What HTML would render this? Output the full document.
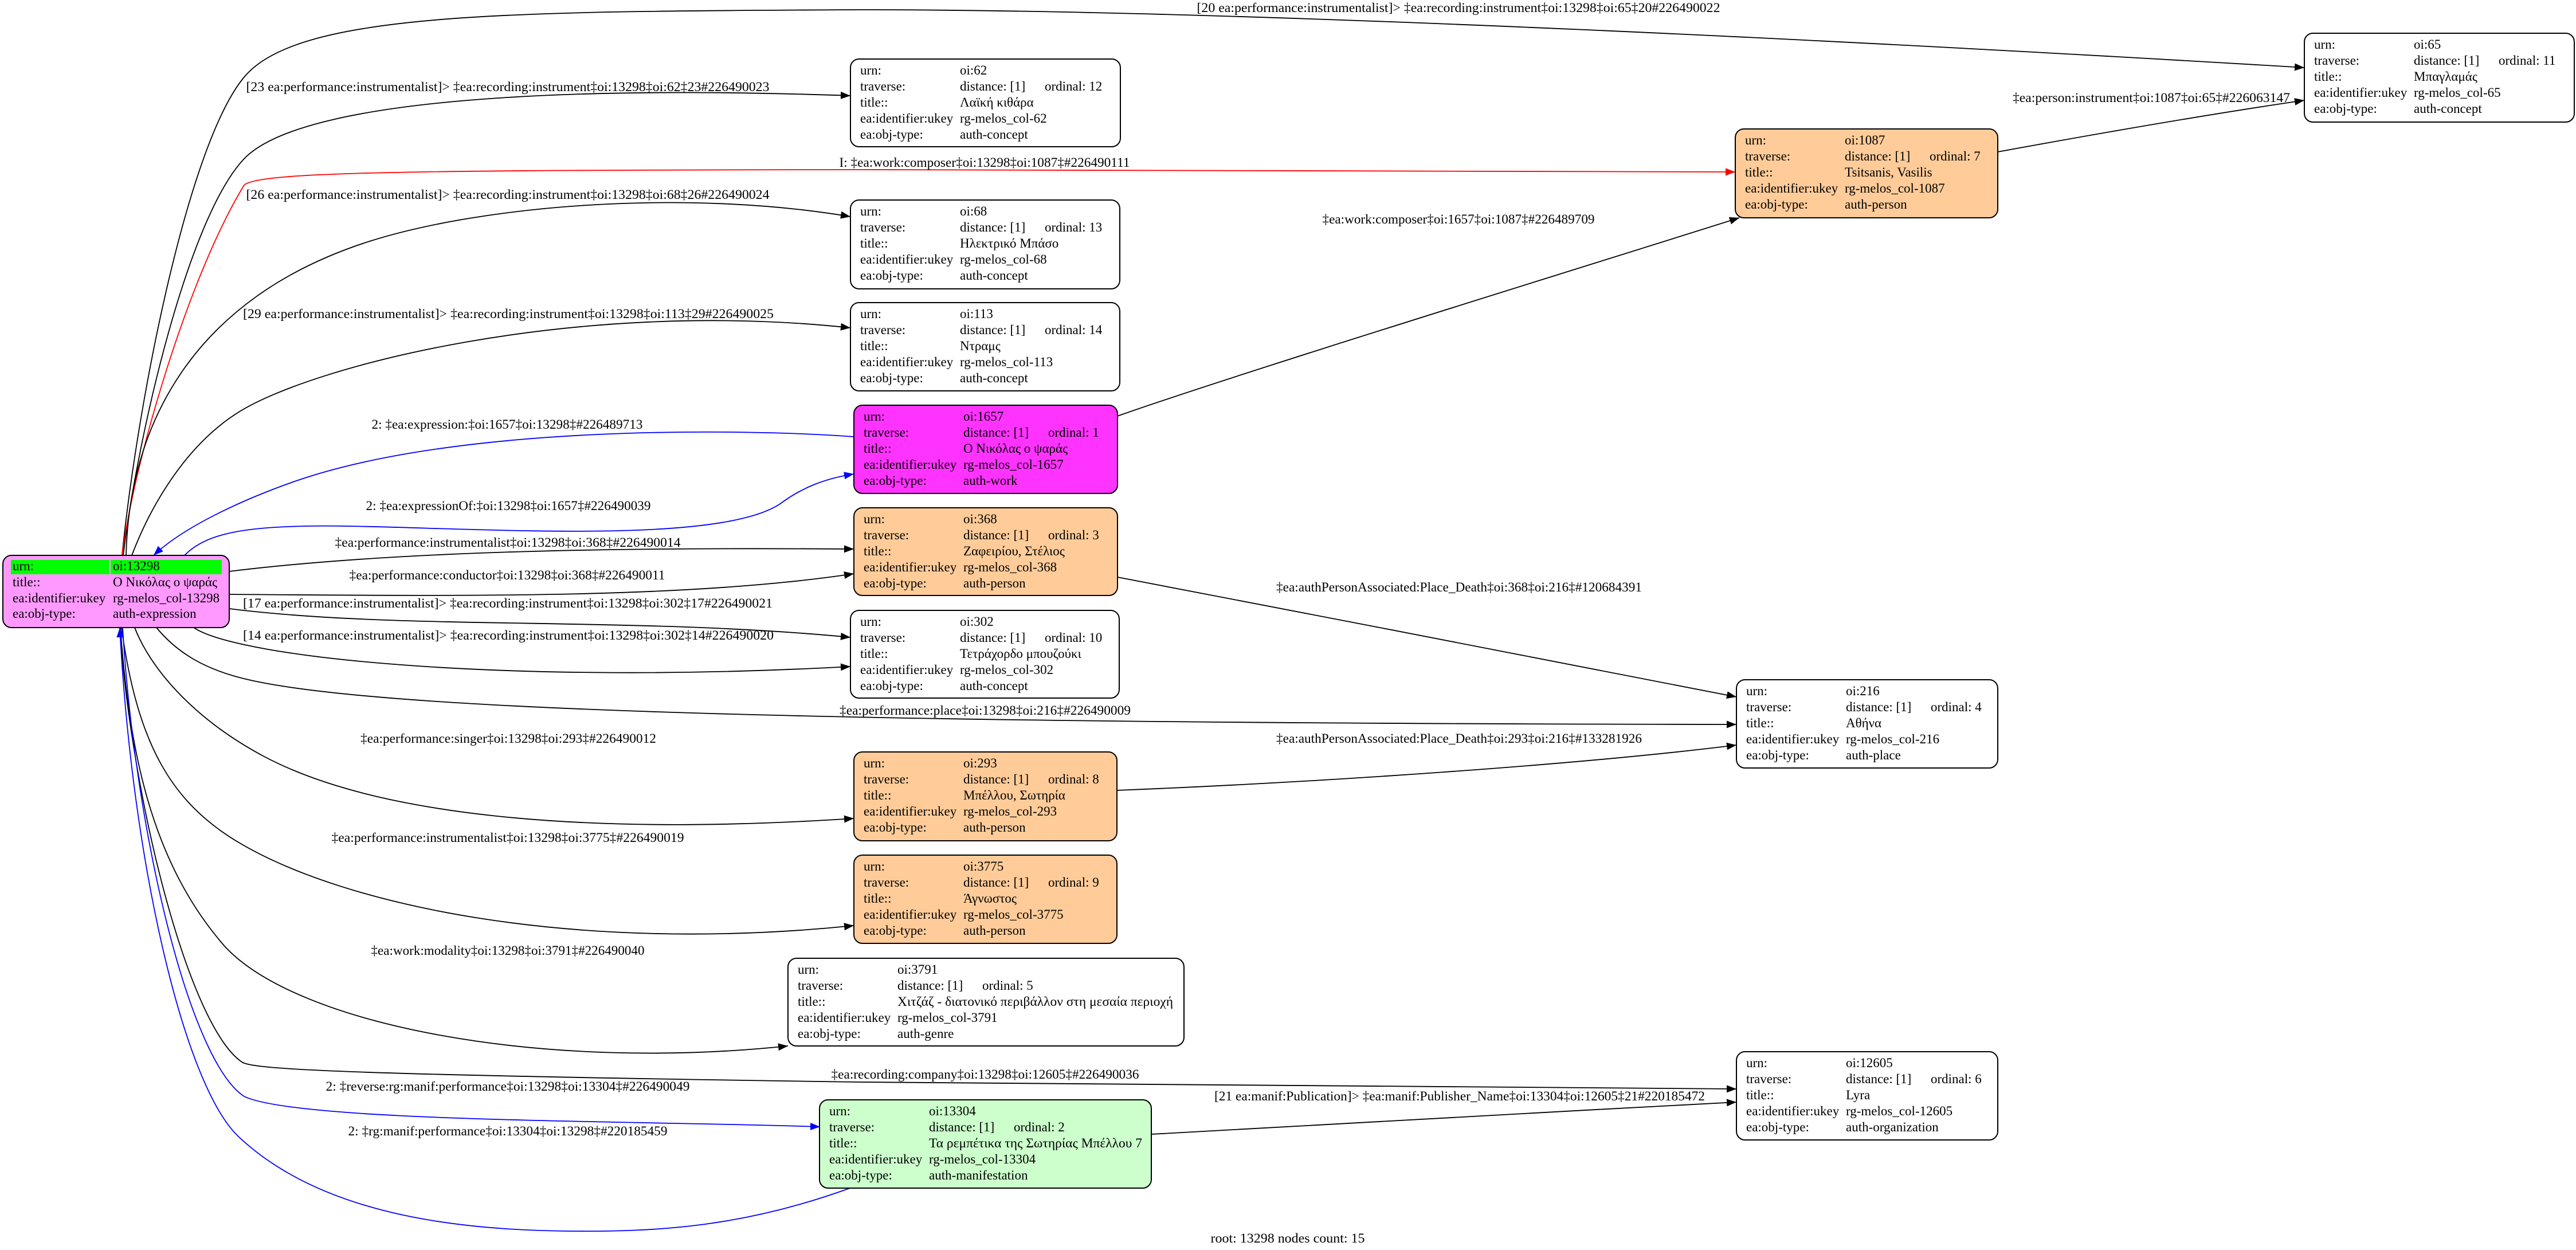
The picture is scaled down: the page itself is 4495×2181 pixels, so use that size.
<!DOCTYPE html>
<html>
<head>
<meta charset="utf-8">
<style>
html,body{margin:0;padding:0;background:#fff;}
svg{display:block;}
text{font-family:"Liberation Serif","DejaVu Serif","Noto Serif CJK SC",serif;font-size:23px;fill:#000;}
.lbl{text-anchor:middle;}
.e{fill:none;stroke:#000;stroke-width:1.8;}
.er{fill:none;stroke:#ff0000;stroke-width:1.8;}
.eb{fill:none;stroke:#0000ff;stroke-width:1.8;}
.n{stroke:#000;stroke-width:2;}
</style>
</head>
<body>
<svg width="4495" height="2181" viewBox="0 0 4495 2181" xmlns="http://www.w3.org/2000/svg">
<defs>
<marker id="ak" markerWidth="20" markerHeight="14" refX="17" refY="6.5" orient="auto" markerUnits="userSpaceOnUse"><path d="M0,0 L17,6.5 L0,13 z" fill="#000"/></marker>
<marker id="ar" markerWidth="20" markerHeight="14" refX="17" refY="6.5" orient="auto" markerUnits="userSpaceOnUse"><path d="M0,0 L17,6.5 L0,13 z" fill="#ff0000"/></marker>
<marker id="abl" markerWidth="20" markerHeight="14" refX="17" refY="6.5" orient="auto" markerUnits="userSpaceOnUse"><path d="M0,0 L17,6.5 L0,13 z" fill="#0000ff"/></marker>
</defs>
<rect x="0" y="0" width="4495" height="2181" fill="#fff"/>

<!-- ============ EDGES ============ -->
<path class="e" marker-end="url(#ak)" d="M213,969 C240,700 330,240 430,130 C530,20 900,20 1500,17 C2200,17 3300,75 4021,118"/>
<path class="e" marker-end="url(#ak)" d="M215,969 C240,760 330,370 430,273 C540,170 1000,150 1484,167"/>
<path class="er" marker-end="url(#ar)" d="M213,969 C235,800 330,480 426,323 C450,300 700,297 1500,296 L3028,300"/>
<path class="e" marker-end="url(#ak)" d="M220,969 C225,750 330,520 648,420 C850,357 1200,330 1484,378"/>
<path class="e" marker-end="url(#ak)" d="M230,969 C260,890 320,780 415,720 C540,640 1000,520 1484,572"/>
<path class="eb" marker-end="url(#abl)" d="M1490,762 C1300,748 800,740 514,840 C420,873 320,920 268,969"/>
<path class="eb" marker-end="url(#abl)" d="M322,969 C360,930 430,915 606,918 C850,922 1250,950 1360,880 C1400,850 1440,835 1490,827"/>
<path class="e" marker-end="url(#ak)" d="M400,997 C700,960 1100,955 1490,958"/>
<path class="e" marker-end="url(#ak)" d="M400,1037 C800,1040 1200,1045 1490,1001"/>
<path class="e" marker-end="url(#ak)" d="M400,1062 C700,1100 1100,1075 1484,1112"/>
<path class="e" marker-end="url(#ak)" d="M338,1095 C420,1150 900,1195 1484,1163"/>
<path class="e" marker-end="url(#ak)" d="M273,1095 C310,1140 360,1170 438,1187 C700,1245 1600,1262 3030,1264"/>
<path class="e" marker-end="url(#ak)" d="M235,1095 C260,1160 330,1250 461,1320 C650,1420 1000,1460 1490,1428"/>
<path class="e" marker-end="url(#ak)" d="M212,1095 C240,1300 300,1400 415,1469 C600,1580 1000,1665 1490,1615"/>
<path class="e" marker-end="url(#ak)" d="M210,1095 C225,1300 260,1500 392,1651 C520,1790 950,1870 1375,1825"/>
<path class="e" marker-end="url(#ak)" d="M209,1095 C230,1400 330,1790 422,1853 C440,1866 600,1875 1500,1888 C2200,1893 2700,1898 3030,1900"/>
<path class="eb" marker-end="url(#abl)" d="M214,1095 C235,1450 330,1850 426,1913 C520,1958 1100,1955 1431,1966"/>
<path class="eb" marker-end="url(#abl)" d="M1486,2072 C1300,2140 1150,2150 989,2148 C800,2146 560,2120 415,1982 C320,1890 230,1500 209,1095"/>
<path class="e" marker-end="url(#ak)" d="M1950,726 C2150,655 2750,470 3035,380"/>
<path class="e" marker-end="url(#ak)" d="M3486,265 C3650,235 3850,200 4021,175"/>
<path class="e" marker-end="url(#ak)" d="M1950,1007 C2300,1075 2700,1150 3030,1216"/>
<path class="e" marker-end="url(#ak)" d="M1949,1379 C2300,1365 2750,1335 3030,1300"/>
<path class="e" marker-end="url(#ak)" d="M2009,1979 C2400,1958 2700,1940 3030,1923"/>

<!-- ============ EDGE LABELS ============ -->
<text class="lbl" x="2545" y="21" textLength="913" lengthAdjust="spacingAndGlyphs">[20 ea:performance:instrumentalist]&gt; ‡ea:recording:instrument‡oi:13298‡oi:65‡20#226490022</text>
<text class="lbl" x="886" y="159" textLength="913" lengthAdjust="spacingAndGlyphs">[23 ea:performance:instrumentalist]&gt; ‡ea:recording:instrument‡oi:13298‡oi:62‡23#226490023</text>
<text class="lbl" x="1718" y="291" textLength="507" lengthAdjust="spacingAndGlyphs">I: ‡ea:work:composer‡oi:13298‡oi:1087‡#226490111</text>
<text class="lbl" x="886" y="347" textLength="913" lengthAdjust="spacingAndGlyphs">[26 ea:performance:instrumentalist]&gt; ‡ea:recording:instrument‡oi:13298‡oi:68‡26#226490024</text>
<text class="lbl" x="887" y="555" textLength="926" lengthAdjust="spacingAndGlyphs">[29 ea:performance:instrumentalist]&gt; ‡ea:recording:instrument‡oi:13298‡oi:113‡29#226490025</text>
<text class="lbl" x="2545" y="390" textLength="475" lengthAdjust="spacingAndGlyphs">‡ea:work:composer‡oi:1657‡oi:1087‡#226489709</text>
<text class="lbl" x="3754" y="178" textLength="484" lengthAdjust="spacingAndGlyphs">‡ea:person:instrument‡oi:1087‡oi:65‡#226063147</text>
<text class="lbl" x="885" y="748" textLength="473" lengthAdjust="spacingAndGlyphs">2: ‡ea:expression:‡oi:1657‡oi:13298‡#226489713</text>
<text class="lbl" x="887" y="890" textLength="497" lengthAdjust="spacingAndGlyphs">2: ‡ea:expressionOf:‡oi:13298‡oi:1657‡#226490039</text>
<text class="lbl" x="886" y="954" textLength="603" lengthAdjust="spacingAndGlyphs">‡ea:performance:instrumentalist‡oi:13298‡oi:368‡#226490014</text>
<text class="lbl" x="885" y="1011" textLength="551" lengthAdjust="spacingAndGlyphs">‡ea:performance:conductor‡oi:13298‡oi:368‡#226490011</text>
<text class="lbl" x="886" y="1060" textLength="924" lengthAdjust="spacingAndGlyphs">[17 ea:performance:instrumentalist]&gt; ‡ea:recording:instrument‡oi:13298‡oi:302‡17#226490021</text>
<text class="lbl" x="887" y="1116" textLength="926" lengthAdjust="spacingAndGlyphs">[14 ea:performance:instrumentalist]&gt; ‡ea:recording:instrument‡oi:13298‡oi:302‡14#226490020</text>
<text class="lbl" x="2546" y="1032" textLength="638" lengthAdjust="spacingAndGlyphs">‡ea:authPersonAssociated:Place_Death‡oi:368‡oi:216‡#120684391</text>
<text class="lbl" x="1719" y="1247" textLength="508" lengthAdjust="spacingAndGlyphs">‡ea:performance:place‡oi:13298‡oi:216‡#226490009</text>
<text class="lbl" x="887" y="1296" textLength="516" lengthAdjust="spacingAndGlyphs">‡ea:performance:singer‡oi:13298‡oi:293‡#226490012</text>
<text class="lbl" x="2546" y="1296" textLength="638" lengthAdjust="spacingAndGlyphs">‡ea:authPersonAssociated:Place_Death‡oi:293‡oi:216‡#133281926</text>
<text class="lbl" x="886" y="1469" textLength="615" lengthAdjust="spacingAndGlyphs">‡ea:performance:instrumentalist‡oi:13298‡oi:3775‡#226490019</text>
<text class="lbl" x="886" y="1666" textLength="477" lengthAdjust="spacingAndGlyphs">‡ea:work:modality‡oi:13298‡oi:3791‡#226490040</text>
<text class="lbl" x="1719" y="1882" textLength="537" lengthAdjust="spacingAndGlyphs">‡ea:recording:company‡oi:13298‡oi:12605‡#226490036</text>
<text class="lbl" x="886" y="1903" textLength="635" lengthAdjust="spacingAndGlyphs">2: ‡reverse:rg:manif:performance‡oi:13298‡oi:13304‡#226490049</text>
<text class="lbl" x="2547" y="1920" textLength="856" lengthAdjust="spacingAndGlyphs">[21 ea:manif:Publication]&gt; ‡ea:manif:Publisher_Name‡oi:13304‡oi:12605‡21#220185472</text>
<text class="lbl" x="886" y="1981" textLength="557" lengthAdjust="spacingAndGlyphs">2: ‡rg:manif:performance‡oi:13304‡oi:13298‡#220185459</text>
<text class="lbl" x="2247" y="2168" textLength="269" lengthAdjust="spacingAndGlyphs">root: 13298 nodes count: 15</text>

<!-- ============ NODES ============ -->
<rect class="n" x="5" y="969" width="395" height="126" rx="15" fill="#ff99ff"/>
<rect x="19" y="977" width="172" height="25" fill="#00ff00"/>
<rect x="193" y="977" width="194" height="25" fill="#00ff00"/>
<text x="22" y="995">urn:</text><text x="197" y="995">oi:13298</text>
<text x="22" y="1023">title::</text><text x="197" y="1023">Ο Νικόλας ο ψαράς</text>
<text x="22" y="1051">ea:identifier:ukey</text><text x="197" y="1051">rg-melos_col-13298</text>
<text x="22" y="1078">ea:obj-type:</text><text x="197" y="1078">auth-expression</text>

<rect class="n" x="4021" y="58" width="471" height="155" rx="15" fill="#fff"/>
<text x="4038" y="85">urn:</text><text x="4212" y="85">oi:65</text>
<text x="4038" y="113">traverse:</text><text x="4212" y="113">distance: [1]</text><text x="4360" y="113">ordinal: 11</text>
<text x="4038" y="141">title::</text><text x="4212" y="141">Μπαγλαμάς</text>
<text x="4038" y="169">ea:identifier:ukey</text><text x="4212" y="169">rg-melos_col-65</text>
<text x="4038" y="197">ea:obj-type:</text><text x="4212" y="197">auth-concept</text>

<rect class="n" x="1484" y="103" width="471" height="153" rx="15" fill="#fff"/>
<text x="1501" y="130">urn:</text><text x="1675" y="130">oi:62</text>
<text x="1501" y="158">traverse:</text><text x="1675" y="158">distance: [1]</text><text x="1823" y="158">ordinal: 12</text>
<text x="1501" y="186">title::</text><text x="1675" y="186">Λαϊκή κιθάρα</text>
<text x="1501" y="214">ea:identifier:ukey</text><text x="1675" y="214">rg-melos_col-62</text>
<text x="1501" y="242">ea:obj-type:</text><text x="1675" y="242">auth-concept</text>

<rect class="n" x="3028" y="225" width="458" height="155" rx="15" fill="#ffcc99"/>
<text x="3045" y="252">urn:</text><text x="3219" y="252">oi:1087</text>
<text x="3045" y="280">traverse:</text><text x="3219" y="280">distance: [1]</text><text x="3367" y="280">ordinal: 7</text>
<text x="3045" y="308">title::</text><text x="3219" y="308">Tsitsanis, Vasilis</text>
<text x="3045" y="336">ea:identifier:ukey</text><text x="3219" y="336">rg-melos_col-1087</text>
<text x="3045" y="364">ea:obj-type:</text><text x="3219" y="364">auth-person</text>

<rect class="n" x="1484" y="349" width="470" height="155" rx="15" fill="#fff"/>
<text x="1501" y="376">urn:</text><text x="1675" y="376">oi:68</text>
<text x="1501" y="404">traverse:</text><text x="1675" y="404">distance: [1]</text><text x="1823" y="404">ordinal: 13</text>
<text x="1501" y="432">title::</text><text x="1675" y="432">Ηλεκτρικό Μπάσο</text>
<text x="1501" y="460">ea:identifier:ukey</text><text x="1675" y="460">rg-melos_col-68</text>
<text x="1501" y="488">ea:obj-type:</text><text x="1675" y="488">auth-concept</text>

<rect class="n" x="1484" y="528" width="470" height="154" rx="15" fill="#fff"/>
<text x="1501" y="555">urn:</text><text x="1675" y="555">oi:113</text>
<text x="1501" y="583">traverse:</text><text x="1675" y="583">distance: [1]</text><text x="1823" y="583">ordinal: 14</text>
<text x="1501" y="611">title::</text><text x="1675" y="611">Ντραμς</text>
<text x="1501" y="639">ea:identifier:ukey</text><text x="1675" y="639">rg-melos_col-113</text>
<text x="1501" y="667">ea:obj-type:</text><text x="1675" y="667">auth-concept</text>

<rect class="n" x="1490" y="707" width="460" height="154" rx="15" fill="#ff33ff"/>
<text x="1507" y="734">urn:</text><text x="1681" y="734">oi:1657</text>
<text x="1507" y="762">traverse:</text><text x="1681" y="762">distance: [1]</text><text x="1829" y="762">ordinal: 1</text>
<text x="1507" y="790">title::</text><text x="1681" y="790">Ο Νικόλας ο ψαράς</text>
<text x="1507" y="818">ea:identifier:ukey</text><text x="1681" y="818">rg-melos_col-1657</text>
<text x="1507" y="846">ea:obj-type:</text><text x="1681" y="846">auth-work</text>

<rect class="n" x="1490" y="886" width="460" height="153" rx="15" fill="#ffcc99"/>
<text x="1507" y="913">urn:</text><text x="1681" y="913">oi:368</text>
<text x="1507" y="941">traverse:</text><text x="1681" y="941">distance: [1]</text><text x="1829" y="941">ordinal: 3</text>
<text x="1507" y="969">title::</text><text x="1681" y="969">Ζαφειρίου, Στέλιος</text>
<text x="1507" y="997">ea:identifier:ukey</text><text x="1681" y="997">rg-melos_col-368</text>
<text x="1507" y="1025">ea:obj-type:</text><text x="1681" y="1025">auth-person</text>

<rect class="n" x="1484" y="1065" width="469" height="153" rx="15" fill="#fff"/>
<text x="1501" y="1092">urn:</text><text x="1675" y="1092">oi:302</text>
<text x="1501" y="1120">traverse:</text><text x="1675" y="1120">distance: [1]</text><text x="1823" y="1120">ordinal: 10</text>
<text x="1501" y="1148">title::</text><text x="1675" y="1148">Τετράχορδο μπουζούκι</text>
<text x="1501" y="1176">ea:identifier:ukey</text><text x="1675" y="1176">rg-melos_col-302</text>
<text x="1501" y="1204">ea:obj-type:</text><text x="1675" y="1204">auth-concept</text>

<rect class="n" x="3030" y="1186" width="456" height="154" rx="15" fill="#fff"/>
<text x="3047" y="1213">urn:</text><text x="3221" y="1213">oi:216</text>
<text x="3047" y="1241">traverse:</text><text x="3221" y="1241">distance: [1]</text><text x="3369" y="1241">ordinal: 4</text>
<text x="3047" y="1269">title::</text><text x="3221" y="1269">Αθήνα</text>
<text x="3047" y="1297">ea:identifier:ukey</text><text x="3221" y="1297">rg-melos_col-216</text>
<text x="3047" y="1325">ea:obj-type:</text><text x="3221" y="1325">auth-place</text>

<rect class="n" x="1490" y="1312" width="459" height="155" rx="15" fill="#ffcc99"/>
<text x="1507" y="1339">urn:</text><text x="1681" y="1339">oi:293</text>
<text x="1507" y="1367">traverse:</text><text x="1681" y="1367">distance: [1]</text><text x="1829" y="1367">ordinal: 8</text>
<text x="1507" y="1395">title::</text><text x="1681" y="1395">Μπέλλου, Σωτηρία</text>
<text x="1507" y="1423">ea:identifier:ukey</text><text x="1681" y="1423">rg-melos_col-293</text>
<text x="1507" y="1451">ea:obj-type:</text><text x="1681" y="1451">auth-person</text>

<rect class="n" x="1490" y="1492" width="459" height="154" rx="15" fill="#ffcc99"/>
<text x="1507" y="1519">urn:</text><text x="1681" y="1519">oi:3775</text>
<text x="1507" y="1547">traverse:</text><text x="1681" y="1547">distance: [1]</text><text x="1829" y="1547">ordinal: 9</text>
<text x="1507" y="1575">title::</text><text x="1681" y="1575">Άγνωστος</text>
<text x="1507" y="1603">ea:identifier:ukey</text><text x="1681" y="1603">rg-melos_col-3775</text>
<text x="1507" y="1631">ea:obj-type:</text><text x="1681" y="1631">auth-person</text>

<rect class="n" x="1375" y="1672" width="691" height="153" rx="15" fill="#fff"/>
<text x="1392" y="1699">urn:</text><text x="1566" y="1699">oi:3791</text>
<text x="1392" y="1727">traverse:</text><text x="1566" y="1727">distance: [1]</text><text x="1714" y="1727">ordinal: 5</text>
<text x="1392" y="1755">title::</text><text x="1566" y="1755" textLength="481" lengthAdjust="spacingAndGlyphs">Χιτζάζ - διατονικό περιβάλλον στη μεσαία περιοχή</text>
<text x="1392" y="1783">ea:identifier:ukey</text><text x="1566" y="1783">rg-melos_col-3791</text>
<text x="1392" y="1811">ea:obj-type:</text><text x="1566" y="1811">auth-genre</text>

<rect class="n" x="3030" y="1835" width="456" height="154" rx="15" fill="#fff"/>
<text x="3047" y="1862">urn:</text><text x="3221" y="1862">oi:12605</text>
<text x="3047" y="1890">traverse:</text><text x="3221" y="1890">distance: [1]</text><text x="3369" y="1890">ordinal: 6</text>
<text x="3047" y="1918">title::</text><text x="3221" y="1918">Lyra</text>
<text x="3047" y="1946">ea:identifier:ukey</text><text x="3221" y="1946">rg-melos_col-12605</text>
<text x="3047" y="1974">ea:obj-type:</text><text x="3221" y="1974">auth-organization</text>

<rect class="n" x="1430" y="1919" width="579" height="154" rx="15" fill="#ccffcc"/>
<text x="1447" y="1946">urn:</text><text x="1621" y="1946">oi:13304</text>
<text x="1447" y="1974">traverse:</text><text x="1621" y="1974">distance: [1]</text><text x="1769" y="1974">ordinal: 2</text>
<text x="1447" y="2002">title::</text><text x="1621" y="2002" textLength="372" lengthAdjust="spacingAndGlyphs">Τα ρεμπέτικα της Σωτηρίας Μπέλλου 7</text>
<text x="1447" y="2030">ea:identifier:ukey</text><text x="1621" y="2030">rg-melos_col-13304</text>
<text x="1447" y="2058">ea:obj-type:</text><text x="1621" y="2058">auth-manifestation</text>
</svg>
</body>
</html>
